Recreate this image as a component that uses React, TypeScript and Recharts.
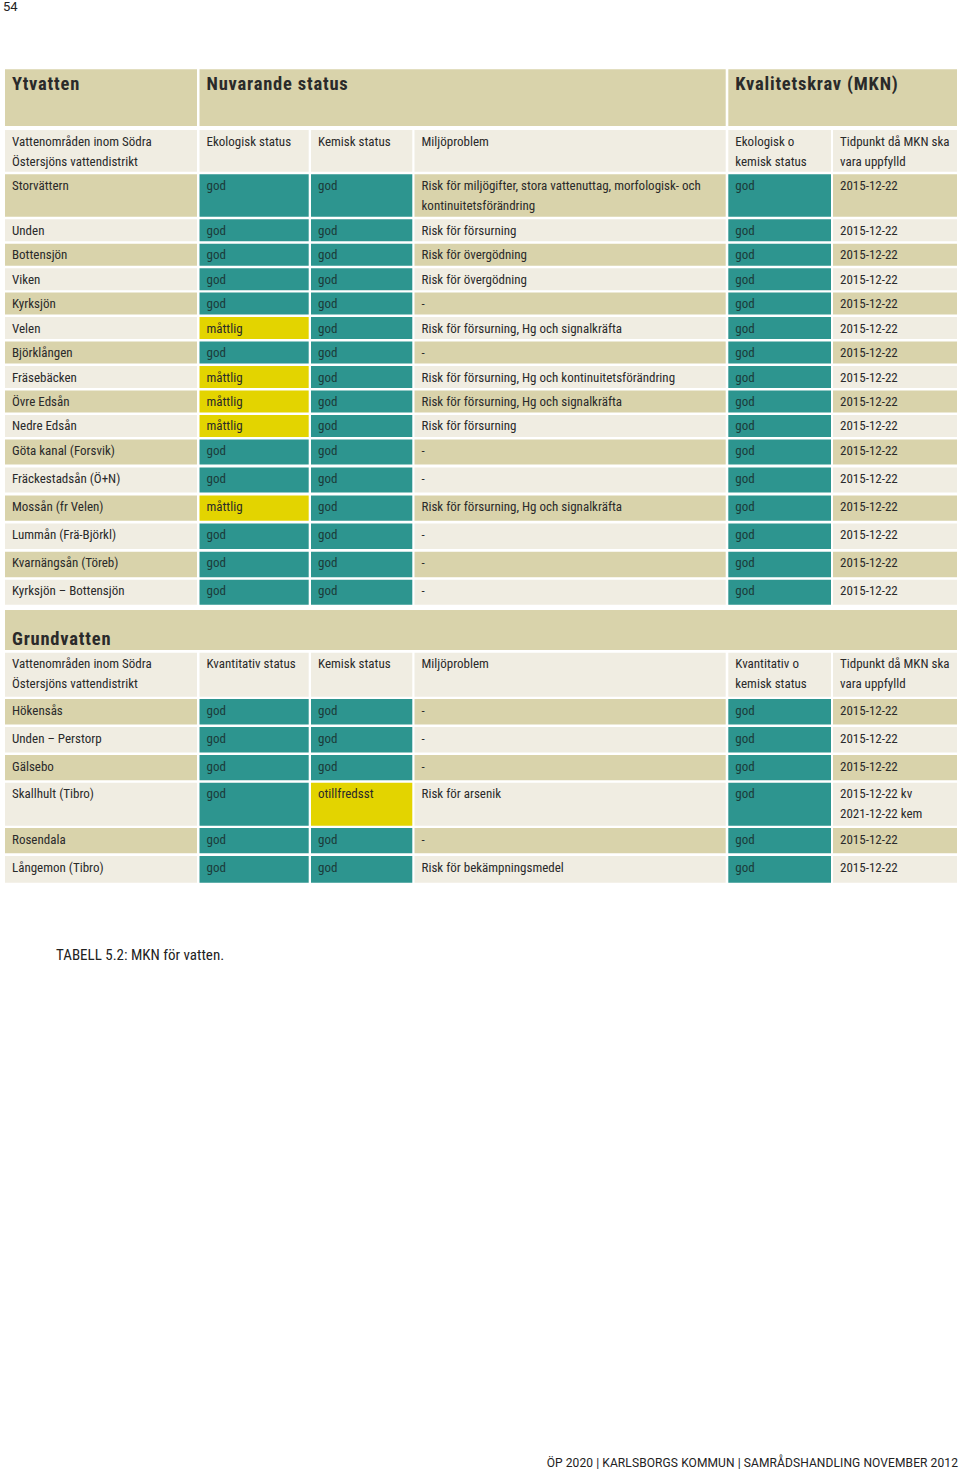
import React from 'react';
import { ComposedChart, XAxis, YAxis, ReferenceArea } from 'recharts';

// ---------- DATA ----------
const SECTION_TITLES = ['Ytvatten', 'Nuvarande status', 'Kvalitetskrav (MKN)', 'Grundvatten'];

const SURFACE_HEADERS = [
  'Vattenområden inom Södra\nÖstersjöns vattendistrikt',
  'Ekologisk status',
  'Kemisk status',
  'Miljöproblem',
  'Ekologisk o\nkemisk status',
  'Tidpunkt då MKN ska\nvara uppfylld',
];
const SURFACE_AREAS = [
  'Storvättern', 'Unden', 'Bottensjön', 'Viken', 'Kyrksjön', 'Velen', 'Björklången',
  'Fräsebäcken', 'Övre Edsån', 'Nedre Edsån', 'Göta kanal (Forsvik)', 'Fräckestadsån (Ö+N)',
  'Mossån (fr Velen)', 'Lummån (Frä-Björkl)', 'Kvarnängsån (Töreb)', 'Kyrksjön – Bottensjön',
];
const SURFACE_ECO = [
  'god', 'god', 'god', 'god', 'god', 'måttlig', 'god', 'måttlig', 'måttlig', 'måttlig',
  'god', 'god', 'måttlig', 'god', 'god', 'god',
];
const SURFACE_CHEM = [
  'god', 'god', 'god', 'god', 'god', 'god', 'god', 'god', 'god', 'god',
  'god', 'god', 'god', 'god', 'god', 'god',
];
const SURFACE_PROBLEM = [
  'Risk för miljögifter, stora vattenuttag, morfologisk- och\nkontinuitetsförändring',
  'Risk för försurning',
  'Risk för övergödning',
  'Risk för övergödning',
  '-',
  'Risk för försurning, Hg och signalkräfta',
  '-',
  'Risk för försurning, Hg och kontinuitetsförändring',
  'Risk för försurning, Hg och signalkräfta',
  'Risk för försurning',
  '-',
  '-',
  'Risk för försurning, Hg och signalkräfta',
  '-',
  '-',
  '-',
];
const SURFACE_MKN = [
  'god', 'god', 'god', 'god', 'god', 'god', 'god', 'god', 'god', 'god',
  'god', 'god', 'god', 'god', 'god', 'god',
];
const SURFACE_DATE = [
  '2015-12-22', '2015-12-22', '2015-12-22', '2015-12-22', '2015-12-22', '2015-12-22',
  '2015-12-22', '2015-12-22', '2015-12-22', '2015-12-22', '2015-12-22', '2015-12-22',
  '2015-12-22', '2015-12-22', '2015-12-22', '2015-12-22',
];

const GROUND_HEADERS = [
  'Vattenområden inom Södra\nÖstersjöns vattendistrikt',
  'Kvantitativ status',
  'Kemisk status',
  'Miljöproblem',
  'Kvantitativ o\nkemisk status',
  'Tidpunkt då MKN ska\nvara uppfylld',
];
const GROUND_AREAS = ['Hökensås', 'Unden – Perstorp', 'Gälsebo', 'Skallhult (Tibro)', 'Rosendala', 'Långemon (Tibro)'];
const GROUND_QUANT = ['god', 'god', 'god', 'god', 'god', 'god'];
const GROUND_CHEM = ['god', 'god', 'god', 'otillfredsst', 'god', 'god'];
const GROUND_PROBLEM = ['-', '-', '-', 'Risk för arsenik', '-', 'Risk för bekämpningsmedel'];
const GROUND_MKN = ['god', 'god', 'god', 'god', 'god', 'god'];
const GROUND_DATE = [
  '2015-12-22', '2015-12-22', '2015-12-22', '2015-12-22 kv\n2021-12-22 kem', '2015-12-22', '2015-12-22',
];

const PAGE_NUMBER = '54';
const CAPTION = 'TABELL 5.2: MKN för vatten.';
const FOOTER = 'ÖP 2020 | KARLSBORGS KOMMUN | SAMRÅDSHANDLING NOVEMBER 2012';

// ---------- LAYOUT / STYLE ----------
const W = 960;
const H = 1471;
const FONT = "'Roboto Condensed', 'DejaVu Sans Condensed', 'Liberation Sans Narrow', Roboto, sans-serif";
const C_DARK = '#d9d3ab';
const C_LIGHT = '#f0ede2';
const C_TEAL = '#2d958f';
const C_YELLOW = '#e3d400';
const C_TEXT = '#2a2a2a';
const C_TEXT_TEAL = '#1b3b39';

const COL_L = [5, 199.5, 311, 414.5, 728.3, 833];
const COL_R = [197, 308.7, 412.3, 725.7, 831, 957];

// row geometry (top, height) for surface rows and ground rows
const SURFACE_ROWS: [number, number][] = [
  [174.3, 42.4],
  [219.3, 22], [243.7, 22], [268.2, 22], [292.6, 22], [317.1, 22], [341.5, 22],
  [366, 22], [390.4, 22], [414.9, 22],
  [439.6, 24.8], [467.4, 25.2], [495.4, 25.4], [523.5, 25.5], [551.7, 25.5], [579.8, 25],
];
const GROUND_ROWS: [number, number][] = [
  [699, 25.5], [727, 25.5], [755, 25.3], [782.8, 43], [828, 25.3], [856, 26.7],
];

type Cell = {
  x1: number; x2: number; y1: number; y2: number;
  fill: string; text?: string; bold?: boolean; baseline?: number; color?: string;
};

const statusFill = (v: string) => (v === 'god' ? C_TEAL : C_YELLOW);

const buildCells = (): Cell[] => {
  const cells: Cell[] = [];
  // Ytvatten header row
  const hTop = 69.3, hBot = 126;
  cells.push({ x1: COL_L[0], x2: COL_R[0], y1: hTop, y2: hBot, fill: C_DARK, text: SECTION_TITLES[0], bold: true, baseline: 21 });
  cells.push({ x1: COL_L[1], x2: COL_R[3], y1: hTop, y2: hBot, fill: C_DARK, text: SECTION_TITLES[1], bold: true, baseline: 21 });
  cells.push({ x1: COL_L[4], x2: COL_R[5], y1: hTop, y2: hBot, fill: C_DARK, text: SECTION_TITLES[2], bold: true, baseline: 21 });
  // surface subheader
  SURFACE_HEADERS.forEach((t, c) => {
    cells.push({ x1: COL_L[c], x2: COL_R[c], y1: 130, y2: 171.7, fill: C_LIGHT, text: t });
  });
  SURFACE_AREAS.forEach((area, r) => {
    const [top, h] = SURFACE_ROWS[r];
    const rowFill = r % 2 === 0 ? C_DARK : C_LIGHT;
    const vals = [area, SURFACE_ECO[r], SURFACE_CHEM[r], SURFACE_PROBLEM[r], SURFACE_MKN[r], SURFACE_DATE[r]];
    vals.forEach((v, c) => {
      const isStatus = c === 1 || c === 2 || c === 4;
      const fill = isStatus ? statusFill(v) : rowFill;
      cells.push({
        x1: COL_L[c], x2: COL_R[c], y1: top, y2: top + h, fill, text: v,
        color: isStatus && v === 'god' ? C_TEXT_TEAL : C_TEXT,
      });
    });
  });
  // Grundvatten header
  cells.push({ x1: COL_L[0], x2: COL_R[5], y1: 610, y2: 650, fill: C_DARK, text: SECTION_TITLES[3], bold: true, baseline: 34.5 });
  GROUND_HEADERS.forEach((t, c) => {
    cells.push({ x1: COL_L[c], x2: COL_R[c], y1: 652.7, y2: 696.7, fill: C_LIGHT, text: t });
  });
  GROUND_AREAS.forEach((area, r) => {
    const [top, h] = GROUND_ROWS[r];
    const rowFill = r % 2 === 0 ? C_DARK : C_LIGHT;
    const vals = [area, GROUND_QUANT[r], GROUND_CHEM[r], GROUND_PROBLEM[r], GROUND_MKN[r], GROUND_DATE[r]];
    vals.forEach((v, c) => {
      const isStatus = c === 1 || c === 2 || c === 4;
      const fill = isStatus ? statusFill(v) : rowFill;
      cells.push({
        x1: COL_L[c], x2: COL_R[c], y1: top, y2: top + h, fill, text: v,
        color: isStatus && v === 'god' ? C_TEXT_TEAL : C_TEXT,
      });
    });
  });
  return cells;
};

const CELLS = buildCells();

const makeLabel = (cell: Cell) => (props: any) => {
  const vb = props.viewBox || {};
  const x = (vb.x ?? 0) + 7;
  const y = (vb.y ?? 0) + (cell.baseline ?? 15.5);
  const lines = (cell.text || '').split('\n');
  return (
    <text
      x={x}
      y={y}
      fill={cell.color || C_TEXT}
      fontFamily={FONT}
      fontSize={cell.bold ? 18.5 : 13}
      fontWeight={cell.bold ? 700 : 400}
      letterSpacing={cell.bold ? 0.8 : 0}
    >
      {lines.map((l, i) => (
        <tspan key={i} x={x} y={y + i * 20}>
          {l}
        </tspan>
      ))}
    </text>
  );
};

export default function App() {
  return (
    <div style={{ position: 'absolute', left: 0, top: 0, width: W, height: H, background: '#fff' }}>
      <div
        style={{
          position: 'absolute', left: 3, top: -1, fontFamily: 'Roboto, sans-serif', fontSize: 13,
          color: '#222', lineHeight: '16px',
        }}
      >
        {PAGE_NUMBER}
      </div>
      <ComposedChart width={W} height={H} data={[]} margin={{ top: 0, right: 0, bottom: 0, left: 0 }}>
        <XAxis type="number" dataKey="x" domain={[0, W]} allowDataOverflow hide />
        <YAxis type="number" dataKey="y" domain={[0, H]} allowDataOverflow reversed hide />
        {CELLS.map((cell, i) => (
          <ReferenceArea
            key={i}
            x1={cell.x1}
            x2={cell.x2}
            y1={cell.y1}
            y2={cell.y2}
            fill={cell.fill}
            fillOpacity={1}
            stroke="none"
            ifOverflow="visible"
            label={makeLabel(cell)}
          />
        ))}
      </ComposedChart>
      <div
        style={{
          position: 'absolute', left: 56, top: 946, fontFamily: FONT, fontSize: 15, color: '#222',
          lineHeight: '19px', whiteSpace: 'nowrap',
        }}
      >
        {CAPTION}
      </div>
      <div
        style={{
          position: 'absolute', right: 2, top: 1455, fontFamily: "Roboto, sans-serif", fontSize: 12,
          color: '#222', lineHeight: '16px', whiteSpace: 'nowrap', letterSpacing: 0.1,
        }}
      >
        {FOOTER}
      </div>
    </div>
  );
}
